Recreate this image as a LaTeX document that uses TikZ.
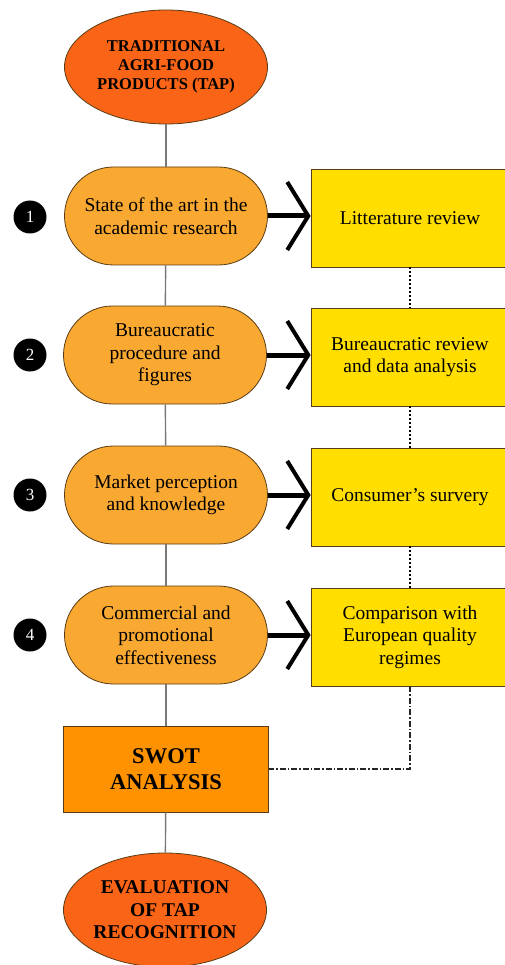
\documentclass[tikz,border=0pt]{standalone}
\usepackage{fontspec}
\setmainfont{Liberation Serif}
\usetikzlibrary{shapes.geometric,arrows.meta}
\definecolor{redor}{RGB}{250,100,22}
\definecolor{lightor}{RGB}{249,168,50}
\definecolor{yel}{RGB}{255,222,0}
\definecolor{swotor}{RGB}{255,146,0}
\definecolor{linegray}{RGB}{120,120,120}
\definecolor{edgebrown}{RGB}{90,60,20}
\begin{document}
\begin{tikzpicture}[x=1pt,y=-1pt,
  endell/.style={ellipse, draw=edgebrown, line width=0.8pt, fill=redor, minimum width=203pt, minimum height=114pt, inner sep=0pt, align=center, font=\bfseries\fontsize{16.5}{19}\selectfont},
  stagebox/.style={rectangle, rounded corners=49pt, draw=edgebrown, line width=0.8pt, fill=lightor, minimum width=203pt, minimum height=98pt, inner sep=0pt, align=center, font=\fontsize{19.5}{22.5}\selectfont},
  methodbox/.style={rectangle, draw=edgebrown, line width=0.8pt, fill=yel, minimum width=198pt, minimum height=98pt, inner sep=0pt, align=center, font=\fontsize{19.5}{22.5}\selectfont},
  swotbox/.style={rectangle, draw=edgebrown, line width=0.8pt, fill=swotor, minimum width=205pt, minimum height=86pt, inner sep=0pt, align=center, font=\bfseries\fontsize{22.5}{26}\selectfont},
  numcirc/.style={circle, fill=black, text=white, minimum size=33pt, inner sep=0pt, font=\fontsize{17}{17}\selectfont},
  flowline/.style={draw=linegray, line width=1.4pt},
  bigarrow/.style={draw=black, line width=5pt, -{Straight Barb[length=21pt, width=68pt, line width=4pt]}},
  dotline/.style={draw=black, line width=1.8pt, dash pattern=on 2pt off 2pt},
  dashdotline/.style={draw=black!85, line width=1.4pt, dash pattern=on 6pt off 2pt on 1.5pt off 2pt}
]
\useasboundingbox (0,0) rectangle (505,965);

\node[endell] (top) at (166,67) {TRADITIONAL\\AGRI-FOOD\\PRODUCTS (TAP)};
\node[stagebox] (s1) at (166,216) {State of the art in the\\academic research};
\node[stagebox] (s2) at (165,355) {Bureaucratic\\procedure and\\figures};
\node[stagebox] (s3) at (166,495) {Market perception\\and knowledge};
\node[stagebox] (s4) at (166,635) {Commercial and\\promotional\\effectiveness};
\node[swotbox] (sw) at (166,769) {SWOT\\ANALYSIS};
\node[endell, font=\bfseries\fontsize{19.5}{22.5}\selectfont] (bot) at (165,910) {EVALUATION\\OF TAP\\RECOGNITION};

\node[methodbox] (b1) at (410,218) {Litterature review};
\node[methodbox] (b2) at (410,357) {Bureaucratic review\\and data analysis};
\node[methodbox] (b3) at (410,497) {Consumer’s survery};
\node[methodbox] (b4) at (410,637) {Comparison with\\European quality\\regimes};

\node[numcirc] (n1) at (30,217) {1};
\node[numcirc] (n2) at (30,355) {2};
\node[numcirc] (n3) at (30,495) {3};
\node[numcirc] (n4) at (30,635) {4};

\draw[flowline] (top) -- (s1);
\draw[flowline] (s1) -- (s2);
\draw[flowline] (s2) -- (s3);
\draw[flowline] (s3) -- (s4);
\draw[flowline] (s4) -- (sw);
\draw[flowline] (sw) -- (bot);

\draw[bigarrow] (s1.east) -- (s1.east -| b1.west);
\draw[bigarrow] (s2.east) -- (s2.east -| b2.west);
\draw[bigarrow] (s3.east) -- (s3.east -| b3.west);
\draw[bigarrow] (s4.east) -- (s4.east -| b4.west);

\draw[dotline] (b1) -- (b2);
\draw[dotline] (b2) -- (b3);
\draw[dotline] (b3) -- (b4);
\draw[dashdotline] (b4.south) |- (sw.east);
\end{tikzpicture}
\end{document}
